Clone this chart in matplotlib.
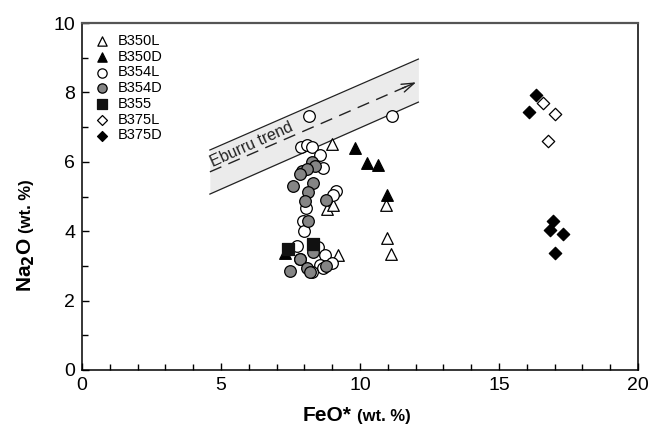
import matplotlib
matplotlib.use('Agg')
import matplotlib.pyplot as plt
from matplotlib.ticker import MultipleLocator

plt.rcParams['font.family'] = ['Liberation Sans', 'DejaVu Sans']

# FeO* / Na2O (wt. %) per sample
b350l_x = [8.99, 8.81, 9.03, 9.21, 10.94, 10.97, 11.12]
b350l_y = [6.51, 4.64, 4.76, 3.31, 4.76, 3.80, 3.34]

b350d_x = [9.82, 10.25, 10.65, 10.97, 7.30]
b350d_y = [6.40, 5.97, 5.91, 5.04, 3.37]

b354l_x = [8.17, 11.15, 7.88, 8.09, 8.27, 8.56, 8.67, 9.14, 9.03, 8.06,
           7.95, 7.99, 7.73, 8.49, 8.74, 7.84, 8.56, 8.99, 8.67, 8.27]
b354l_y = [7.32, 7.32, 6.43, 6.48, 6.43, 6.20, 5.82, 5.16, 5.04, 4.67,
           4.29, 4.01, 3.57, 3.54, 3.31, 3.20, 3.03, 3.08, 2.94, 2.82]

b354d_x = [8.27, 8.38, 7.91, 8.09, 7.84, 8.31, 7.59, 8.13, 8.02, 8.78,
           8.13, 8.31, 7.84, 7.48, 8.09, 8.20, 8.78]
b354d_y = [5.99, 5.88, 5.73, 5.79, 5.65, 5.39, 5.30, 5.13, 4.87, 4.90,
           4.29, 3.40, 3.20, 2.85, 2.94, 2.82, 3.00]

b355_x = [7.41, 8.31]
b355_y = [3.49, 3.63]

b375l_x = [16.58, 17.01, 16.76]
b375l_y = [7.69, 7.38, 6.60]

b375d_x = [16.33, 16.08, 16.94, 16.83, 17.30, 17.01]
b375d_y = [7.93, 7.44, 4.29, 4.03, 3.92, 3.37]

# Eburru trend band
trend_x = [4.6, 12.1]
trend_upper = [6.34, 8.96]
trend_lower = [5.07, 7.72]
trend_mid = [5.71, 8.32]

fig = plt.figure(figsize=(6.49, 4.33), dpi=100)
ax = fig.add_axes([82 / 649, 1 - 370 / 433, 556 / 649, 347 / 433])

ax.fill_between(trend_x, trend_lower, trend_upper, color='#ebebeb', lw=0, zorder=1)
ax.plot(trend_x, trend_upper, color='#222222', lw=0.9, zorder=2)
ax.plot(trend_x, trend_lower, color='#222222', lw=0.9, zorder=2)

slope = (trend_mid[1] - trend_mid[0]) / (trend_x[1] - trend_x[0])
tip_x = trend_x[1] - 0.08
tip_y = trend_mid[0] + slope * (tip_x - trend_x[0])
ax.plot([trend_x[0], tip_x - 0.15], [trend_mid[0], tip_y - 0.15 * slope],
        color='#222222', lw=1.0, linestyle=(0, (9, 5.5)), zorder=2)
ax.annotate('', xy=(tip_x, tip_y), xytext=(tip_x - 0.5, tip_y - 0.5 * slope),
            arrowprops=dict(arrowstyle='->,head_length=0.9,head_width=0.3',
                            color='#222222', lw=1.0, shrinkA=0, shrinkB=0),
            zorder=2)
ax.text(4.72, 5.84, 'Eburru trend', rotation=24.3, rotation_mode='anchor',
        ha='left', va='baseline', fontsize=11.5, color='#222222', zorder=3)

ms = 70
ax.scatter(b350l_x, b350l_y, s=ms, marker='^', facecolor='white', edgecolor='black', lw=0.9, zorder=4, label='B350L')
ax.scatter(b350d_x, b350d_y, s=ms, marker='^', facecolor='black', edgecolor='black', lw=0.9, zorder=4, label='B350D')
ax.scatter(b354l_x, b354l_y, s=ms, marker='o', facecolor='white', edgecolor='black', lw=0.9, zorder=4, label='B354L')
ax.scatter(b354d_x, b354d_y, s=ms, marker='o', facecolor='#858585', edgecolor='black', lw=0.9, zorder=4, label='B354D')
ax.scatter(b355_x, b355_y, s=ms, marker='s', facecolor='#111111', edgecolor='#111111', lw=0.9, zorder=4, label='B355')
ax.scatter(b375l_x, b375l_y, s=40, marker='D', facecolor='white', edgecolor='black', lw=0.9, zorder=4, label='B375L')
ax.scatter(b375d_x, b375d_y, s=40, marker='D', facecolor='black', edgecolor='black', lw=0.9, zorder=4, label='B375D')

leg = ax.legend(loc='upper left', frameon=False, fontsize=10.5, scatterpoints=1,
                markerscale=0.8, handletextpad=0.5, labelspacing=0.12,
                borderaxespad=0.35, handlelength=1.2)

ax.set_xlim(0, 20)
ax.set_ylim(0, 10)
ax.xaxis.set_major_locator(MultipleLocator(5))
ax.xaxis.set_minor_locator(MultipleLocator(1))
ax.yaxis.set_major_locator(MultipleLocator(2))
ax.yaxis.set_minor_locator(MultipleLocator(1))
ax.tick_params(which='both', direction='in', labelsize=14, width=1, pad=5)
ax.tick_params(which='major', length=5)
ax.tick_params(which='minor', length=4)
for side in ['left', 'bottom', 'right']:
    ax.spines[side].set_linewidth(1.1)
ax.spines['top'].set_color('#555555')
ax.spines['top'].set_linewidth(1.6)

fig.text(351 / 649, 1 - 421 / 433, 'FeO*', ha='right', va='baseline', fontsize=15, weight='bold')
fig.text(357 / 649, 1 - 421 / 433, '(wt. %)', ha='left', va='baseline', fontsize=12, weight='bold')
fig.text(31 / 649, 1 - 292 / 433, 'Na$_\\mathbf{2}$O', rotation=90, rotation_mode='anchor',
         ha='left', va='baseline', fontsize=15, weight='bold')
fig.text(31 / 649, 1 - 233 / 433, '(wt. %)', rotation=90, rotation_mode='anchor',
         ha='left', va='baseline', fontsize=12, weight='bold')

fig.savefig('out.png', dpi=100)
